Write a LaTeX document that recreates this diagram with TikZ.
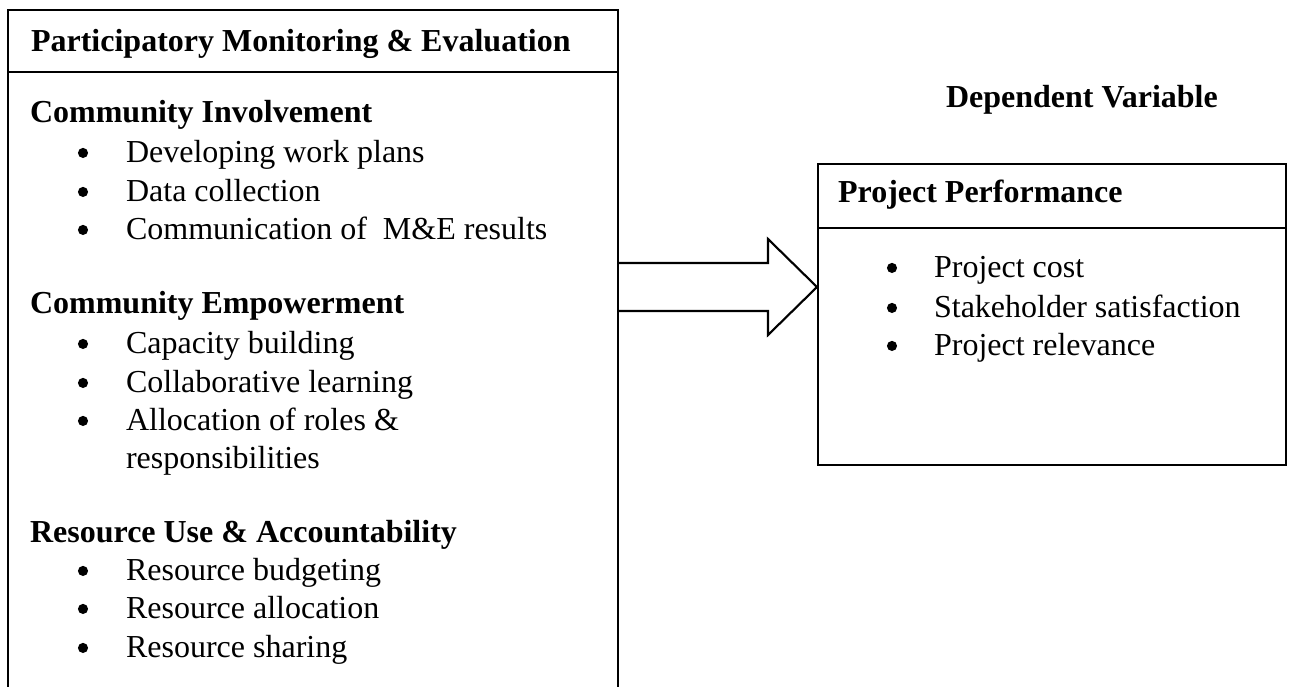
\documentclass[tikz,border=0pt]{standalone}
\usepackage{fontspec}
\setmainfont{Liberation Serif}
\begin{document}
\begin{tikzpicture}[x=0.375pt,y=-0.375pt,line width=0.8pt,
  txt/.style={anchor=base west,inner sep=0pt,font=\fontsize{12}{14}\selectfont},
  hd/.style={anchor=base west,inner sep=0pt,font=\fontsize{12}{14}\selectfont\bfseries},
  bulletdot/.style={fill=black,draw=none},
  boxline/.style={draw=black,line width=0.8pt}]
\useasboundingbox (0,0) rectangle (1289,686);

% left box (open at the bottom)
\coordinate (lbBL) at (8,690);
\coordinate (lbTL) at (8,10);
\coordinate (lbTR) at (618,10);
\coordinate (lbBR) at (618,690);
\draw[boxline] (lbBL) -- (lbTL) -- (lbTR) -- (lbBR);
\draw[boxline] (8,72) -- (618,72);

\node[hd] (title) at (30,51) {Participatory Monitoring \& Evaluation};

\node[hd] (ci) at (29,122) {Community Involvement};
\node[txt] (ci1) at (125,162) {Developing work plans};
\node[txt] (ci2) at (125,201) {Data collection};
\node[txt] (ci3) at (125,239) {Communication of \ M\&E results};

\node[hd] (ce) at (29,313) {Community Empowerment};
\node[txt] (ce1) at (125,353) {Capacity building};
\node[txt] (ce2) at (125,392) {Collaborative learning};
\node[txt] (ce3) at (125,430) {Allocation of roles \&};
\node[txt] (ce3b) at (125,468) {responsibilities};

\node[hd] (ru) at (29,542) {Resource Use \& Accountability};
\node[txt] (ru1) at (125,580) {Resource budgeting};
\node[txt] (ru2) at (125,618) {Resource allocation};
\node[txt] (ru3) at (125,657) {Resource sharing};

\foreach \n in {ci1,ci2,ci3,ce1,ce2,ce3,ru1,ru2,ru3}
  \fill[bulletdot] ([xshift=-42*0.375pt,yshift=3.4pt]\n.base west) circle[radius=1.9pt];

% right box
\node[hd] (dv) at (945,107) {Dependent Variable};
\node[draw,line width=0.8pt,anchor=north west,inner sep=0pt,
      minimum width=175.5pt,minimum height=112.9pt] (rbox) at (817,163) {};
\draw[boxline] (817,228) -- (1285,228);
\node[hd] (pp) at (837,202) {Project Performance};
\node[txt] (pp1) at (933,277) {Project cost};
\node[txt] (pp2) at (933,317) {Stakeholder satisfaction};
\node[txt] (pp3) at (933,355) {Project relevance};

\foreach \n in {pp1,pp2,pp3}
  \fill[bulletdot] ([xshift=-41*0.375pt,yshift=3.4pt]\n.base west) circle[radius=1.9pt];

% block arrow from left box to right box
\coordinate (aS) at (lbTR |- 0,287);
\coordinate (aT) at (rbox.west |- aS);
\draw[boxline,line join=miter]
  ([yshift=-24*0.375pt]aS) -- ([xshift=-49*0.375pt,yshift=-24*0.375pt]aT)
  -- ([xshift=-49*0.375pt,yshift=-48*0.375pt]aT) -- (aT)
  -- ([xshift=-49*0.375pt,yshift=48*0.375pt]aT)
  -- ([xshift=-49*0.375pt,yshift=24*0.375pt]aT) -- ([yshift=24*0.375pt]aS);
\end{tikzpicture}
\end{document}
